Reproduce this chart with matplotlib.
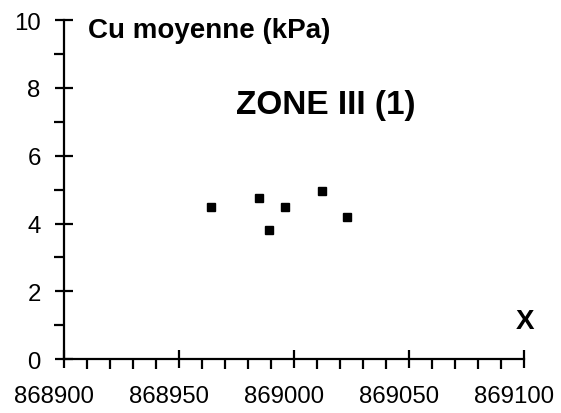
import matplotlib
matplotlib.use("Agg")
import matplotlib.pyplot as plt
import matplotlib.transforms as mtransforms
from matplotlib.ticker import MultipleLocator

plt.rcParams['font.family'] = ['Liberation Sans', 'DejaVu Sans']

# data
x_pos = [868964, 868985, 868996, 868989, 869012, 869023]
cu_moy = [4.49, 4.74, 4.49, 3.81, 4.96, 4.20]

fig = plt.figure(figsize=(5.61, 4.14), dpi=100)
ax = fig.add_axes([0.114, 0.130, 0.820, 0.819])

ax.plot(x_pos, cu_moy, 's', color='black', markersize=5.6, clip_on=False)

ax.set_xlim(868900, 869100)
ax.set_ylim(0, 10)
ax.xaxis.set_major_locator(MultipleLocator(50))
ax.xaxis.set_minor_locator(MultipleLocator(10))
ax.yaxis.set_major_locator(MultipleLocator(2))
ax.yaxis.set_minor_locator(MultipleLocator(1))
ax.ticklabel_format(useOffset=False, style='plain', axis='x')

for s in ['top', 'right']:
    ax.spines[s].set_visible(False)
for s in ['left', 'bottom']:
    ax.spines[s].set_linewidth(1.6)

ax.tick_params(which='major', direction='inout', length=13.5, width=1.6,
               labelsize=17.3)
ax.tick_params(axis='x', which='major', pad=12)
ax.tick_params(axis='y', which='major', pad=10)
ax.tick_params(which='minor', direction='out', length=7, width=1.6)

# x labels sit a little left of their ticks in the original
shift = mtransforms.ScaledTranslation(-0.10, 0, fig.dpi_scale_trans)
for lab in ax.get_xticklabels():
    lab.set_transform(lab.get_transform() + shift)

fig.text(0.157, 0.925, 'Cu moyenne (kPa)', fontsize=20, fontweight='bold',
         ha='left', va='center')
fig.text(0.581, 0.744, 'ZONE III (1)', fontsize=24, fontweight='bold',
         ha='center', va='center')
fig.text(0.936, 0.222, 'X', fontsize=20, fontweight='bold',
         ha='center', va='center')

fig.savefig('out.png', dpi=100)
